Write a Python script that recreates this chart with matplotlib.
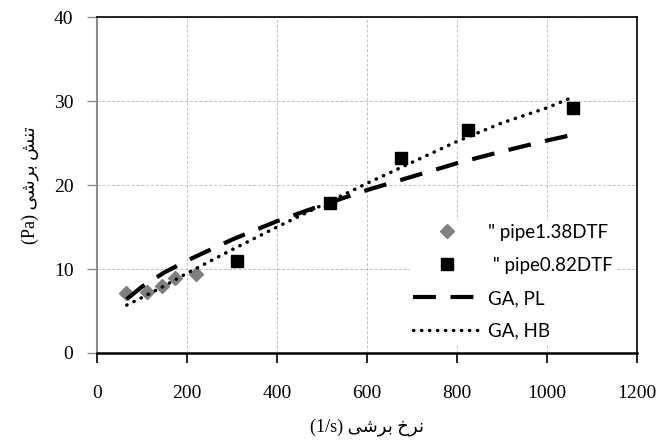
from matplotlib import pyplot as plt

# Measured points
pipe138_x = [64, 110, 144, 173, 221]
pipe138_y = [7.2, 7.3, 8.0, 8.9, 9.4]
pipe082_x = [310, 518, 675, 825, 1057]
pipe082_y = [10.9, 17.9, 23.2, 26.5, 29.2]

# Model curves
pl_x = [66, 100, 150, 200, 300, 400, 500, 600, 700, 800, 900, 1000, 1050]
pl_y = [6.4, 7.9, 9.6, 11.0, 13.5, 15.7, 17.6, 19.4, 21.0, 22.6, 24.0, 25.3, 25.9]
hb_x = [66, 100, 150, 200, 300, 400, 500, 600, 700, 800, 900, 1000, 1050]
hb_y = [5.7, 6.6, 8.0, 9.5, 12.3, 15.0, 17.6, 20.2, 22.7, 25.2, 27.4, 29.2, 30.3]

labels = ['" pipe1.38DTF', ' " pipe0.82DTF', 'GA, PL', 'GA, HB']

# Persian labels in presentation forms, visual order
xlab = "(1/s) \uFEF0\uFEB7\uFEAE\uFE91 \uFEA5\uFEAE\uFEE7"
ylab = "(Pa) \uFEF0\uFEB7\uFEAE\uFE91 \uFEB6\uFEE8\uFE97"

serif = ['Liberation Serif', 'DejaVu Sans']

fig = plt.figure(figsize=(6.65, 4.42), dpi=100)
ax = fig.add_axes([0.1459, 0.2014, 0.8121, 0.76])

ax.plot(pipe138_x, pipe138_y, linestyle='none', marker='D', ms=7.5,
        color='#7f7f7f', label=labels[0], zorder=3)
ax.plot(pipe082_x, pipe082_y, linestyle='none', marker='s', ms=8,
        color='black', label=labels[1], zorder=3)
ax.plot(pl_x, pl_y, color='black', lw=3, linestyle=(0, (5.5, 3.5)),
        label=labels[2], zorder=4)
ax.plot(hb_x, hb_y, color='black', lw=2.5, linestyle=(0, (0.1, 2.2)),
        dash_capstyle='round', label=labels[3], zorder=4)

ax.set_xlim(0, 1200)
ax.set_ylim(0, 40)
ax.set_xticks(range(0, 1201, 200))
ax.set_yticks(range(0, 41, 10))
ax.grid(True, color='#bfbfbf', linestyle=(0, (3, 2)), lw=0.7)
ax.set_axisbelow(True)

for s in ['top', 'right']:
    ax.spines[s].set_color('black')
    ax.spines[s].set_linewidth(1.2)
ax.spines['bottom'].set_color('black')
ax.spines['bottom'].set_linewidth(1.8)
ax.spines['left'].set_color('#8c8c8c')
ax.spines['left'].set_linewidth(1.5)
ax.tick_params(axis='y', direction='out', length=7, color='#8c8c8c', width=1)
ax.tick_params(axis='x', direction='out', length=7, color='black', width=1.2)
ax.tick_params(axis='x', pad=16)
ax.tick_params(axis='y', pad=10)

for t in ax.get_xticklabels() + ax.get_yticklabels():
    t.set_fontfamily(serif)
    t.set_fontsize(14)

ax.set_xlabel(xlab, family=serif, fontsize=13, labelpad=12)
ax.set_ylabel(ylab, family=serif, fontsize=13, labelpad=11)

leg = ax.legend(loc='lower right', bbox_to_anchor=(0.98, 0.0), frameon=True,
                facecolor='white', edgecolor='none', framealpha=1,
                prop={'family': 'Lato', 'size': 13.5}, handlelength=3.6,
                handletextpad=0.4, labelspacing=0.85, borderpad=0.2,
                fancybox=False)

fig.savefig('out.png', dpi=100)
